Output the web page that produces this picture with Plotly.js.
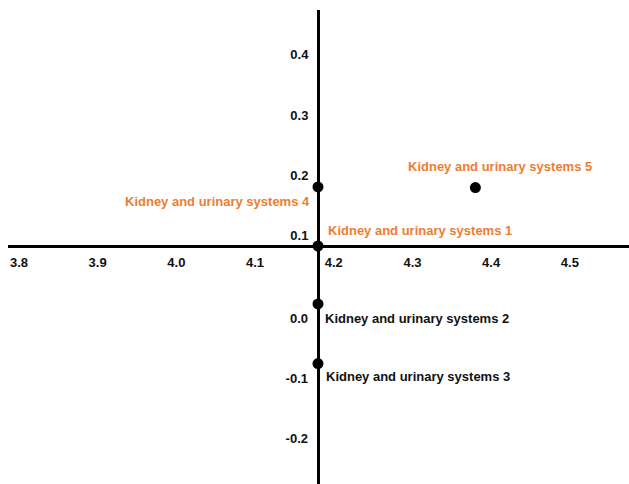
<!DOCTYPE html>
<html>
<head>
<meta charset="utf-8">
<script src="https://cdn.plot.ly/plotly-3.0.1.min.js"></script>
<style>html,body{margin:0;padding:0;background:#fff;}#chart{width:629px;height:484px;}</style>
</head>
<body>
<div id="chart"></div>
<script>
// ---- data ----
const labels = [
  "Kidney and urinary systems 1",
  "Kidney and urinary systems 2",
  "Kidney and urinary systems 3",
  "Kidney and urinary systems 4",
  "Kidney and urinary systems 5"
];
const xValues = [4.18, 4.18, 4.18, 4.18, 4.38];
const yValues = [0.083, -0.013, -0.112, 0.181, 0.180];
const highlighted = [true, false, false, true, true];

const xTickVals = [3.8, 3.9, 4.0, 4.1, 4.2, 4.3, 4.4, 4.5];
const xTickText = ["3.8", "3.9", "4.0", "4.1", "4.2", "4.3", "4.4", "4.5"];
const yUpperTickVals = [0.1, 0.2, 0.3, 0.4];
const yUpperTickText = ["0.1", "0.2", "0.3", "0.4"];
const yLowerTickVals = [0.0, -0.1, -0.2];
const yLowerTickText = ["0.0", "-0.1", "-0.2"];

// axes cross at the first point
const crossX = xValues[0];
const crossY = yValues[0];

// ---- styling / placement ----
const ORANGE = "#ED7D31";
const FONT = {family: "Liberation Sans, Arial, sans-serif", size: 13, color: "#111", weight: "bold"};
const xRange = [3.7861, 4.5752];
const yRange = [-0.3117, 0.4744];
// label placement per point: [xanchor, xshift, yshift]
const placement = [
  ["left", 8, 16],
  ["left", 5, -15],
  ["left", 6, -13],
  ["right", -6, -15],
  ["center", 25, 21]
];

const posX = (crossX - xRange[0]) / (xRange[1] - xRange[0]);
const posY = (crossY - yRange[0]) / (yRange[1] - yRange[0]);

const trace = {
  type: "scatter",
  mode: "markers",
  x: xValues,
  y: yValues,
  marker: {color: "#000", size: 11},
  hoverinfo: "skip",
  cliponaxis: false
};
// same points on the overlaying axis (carries the lower tick labels), drawn invisibly
const traceLower = {
  type: "scatter",
  mode: "markers",
  x: xValues,
  y: yValues,
  yaxis: "y2",
  marker: {color: "rgba(0,0,0,0)", size: 1},
  hoverinfo: "skip"
};

const annotations = labels.map((t, i) => ({
  x: xValues[i], y: yValues[i], xref: "x", yref: "y",
  text: t, showarrow: false,
  xanchor: placement[i][0], yanchor: "middle",
  xshift: placement[i][1], yshift: placement[i][2],
  font: Object.assign({}, FONT, {color: highlighted[i] ? ORANGE : "#111"})
}));

const layout = {
  width: 629, height: 484,
  margin: {l: 8, r: 0, t: 10, b: 0, pad: 0},
  paper_bgcolor: "#fff", plot_bgcolor: "#fff",
  showlegend: false,
  xaxis: {
    range: xRange, anchor: "free", position: posY,
    showgrid: false, zeroline: false,
    showline: true, linecolor: "#000", linewidth: 3,
    ticks: "", tickvals: xTickVals, ticktext: xTickText,
    ticklabelstandoff: 3,
    tickfont: FONT, fixedrange: true
  },
  yaxis: {
    range: yRange, anchor: "free", position: posX,
    showgrid: false, zeroline: false,
    showline: true, linecolor: "#000", linewidth: 3,
    ticks: "", tickvals: yUpperTickVals, ticktext: yUpperTickText,
    ticklabelstandoff: 6,
    tickfont: FONT, fixedrange: true
  },
  yaxis2: {
    range: yRange, overlaying: "y", anchor: "free", position: posX, side: "left",
    showgrid: false, zeroline: false, showline: false,
    ticks: "", tickvals: yLowerTickVals, ticktext: yLowerTickText,
    ticklabelstandoff: 10, ticklabelshift: 22,
    tickfont: FONT, fixedrange: true
  },
  annotations: annotations
};

Plotly.newPlot("chart", [trace, traceLower], layout, {staticPlot: true, displayModeBar: false});
</script>
</body>
</html>
